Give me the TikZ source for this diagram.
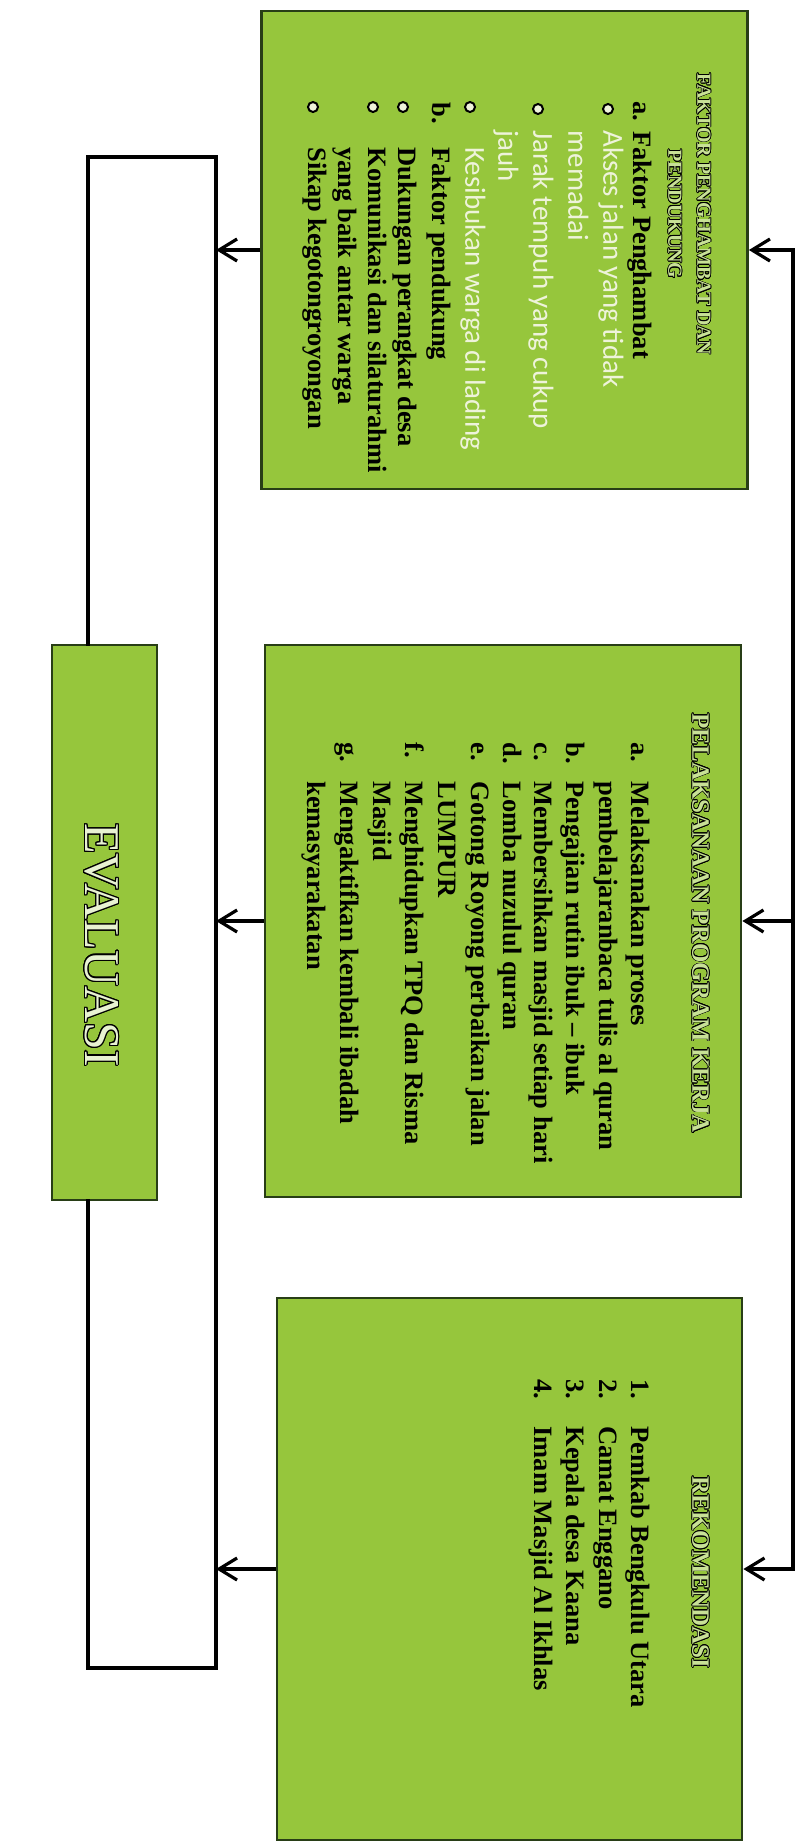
\documentclass[tikz,border=0pt]{standalone}
\usepackage{fontspec}
\setmainfont{Liberation Serif}
\newfontfamily\calfont{Carlito}
\usepackage[copies]{contour}
\usetikzlibrary{arrows.meta}
\definecolor{boxgreen}{RGB}{150,198,60}
\definecolor{boxline}{RGB}{40,62,22}
\definecolor{lighttext}{RGB}{238,243,218}
\definecolor{ttlfill}{RGB}{200,225,150}
\definecolor{evfill}{RGB}{232,242,210}
\newcommand{\outl}[1]{\contourlength{0.35pt}\contour{black}{\textcolor{ttlfill}{#1}}}
\begin{document}
\begin{tikzpicture}[x=0.5pt,y=-0.5pt,
  box/.style={draw=boxline, line width=1.4pt, fill=boxgreen, inner sep=0pt},
  conn/.style={line width=2pt, line cap=rect},
  arr/.style={line width=2pt, -{Straight Barb[length=9pt,width=11pt,line width=1.6pt]}},
  body/.style={rotate=-90, inner sep=0pt, anchor=mid west, font=\bfseries\fontsize{13.25}{15}\selectfont},
  wbody/.style={body, font=\calfont\fontsize{14.5}{17}\selectfont, text=lighttext},
  ttlA/.style={rotate=-90, inner sep=0pt, anchor=mid, font=\bfseries\fontsize{10}{12}\selectfont},
  ttlB/.style={rotate=-90, inner sep=0pt, anchor=mid west, font=\bfseries\fontsize{12.5}{15}\selectfont},
  bul/.style={circle, draw=black, fill=lighttext, line width=1pt, inner sep=0pt, minimum size=5pt},
  evtxt/.style={rotate=-90, inner sep=0pt, font=\fontsize{25}{30}\selectfont}
]
\fill[white] (0,0) rectangle (800,1848);
\useasboundingbox (0,0) rectangle (800,1848);

% boxes
\node[box, minimum width=243pt, minimum height=239pt] (b1) at (504.5,250) {};
\node[box, minimum width=238pt, minimum height=276pt] (b2) at (503,921) {};
\node[box, minimum width=232.5pt, minimum height=271pt] (b3) at (509.5,1569) {};
\node[box, minimum width=52.5pt, minimum height=277.5pt] (ev) at (104.5,922.5) {};
\node[evtxt] (evt) at (101,945) {\contourlength{0.6pt}\contour{black}{\textcolor{evfill}{EVALUASI}}};

% box 1 text
\node[ttlA] (t1a) at (702,214) {\outl{FAKTOR PENGHAMBAT DAN}};
\node[ttlA] (t1b) at (673,214) {\outl{PENDUKUNG}};
\node[body] (p1) at (638,101) {a.};
\node[body] (p2) at (638,131) {Faktor Penghambat};
\node[bul] (q1) at (608,109) {};
\node[wbody] (p3) at (608,130) {Akses jalan yang tidak};
\node[wbody] (p4) at (573,130) {memadai};
\node[bul] (q2) at (538,109) {};
\node[wbody] (p5) at (538,130) {Jarak tempuh yang cukup};
\node[wbody] (p6) at (503,130) {jauh};
\node[bul] (q3) at (470,107) {};
\node[wbody] (p7) at (470,147) {Kesibukan warga di lading};
\node[body] (p8) at (437,102) {b.};
\node[body] (p9) at (437,147) {Faktor pendukung};
\node[bul] (q4) at (403,107) {};
\node[body] (p10) at (403,147) {Dukungan perangkat desa};
\node[bul] (q5) at (373,107) {};
\node[body] (p11) at (373,147) {Komunikasi dan silaturahmi};
\node[body] (p12) at (343,147) {yang baik antar warga};
\node[bul] (q6) at (313,107) {};
\node[body] (p13) at (313,147) {Sikap kegotongroyongan};

% box 2 text
\node[ttlB] (t2) at (697,713) {\outl{PELAKSANAAN PROGRAM KERJA}};
\node[body] (r1) at (636,742) {a.};
\node[body] (s1) at (636,781) {Melaksanakan proses};
\node[body] (s2) at (604,781) {pembelajaranbaca tulis al quran};
\node[body] (r3) at (571,742) {b.};
\node[body] (s3) at (571,781) {Pengajian rutin ibuk -- ibuk};
\node[body] (r4) at (539,742) {c.};
\node[body] (s4) at (539,781) {Membersihkan masjid setiap hari};
\node[body] (r5) at (508,742) {d.};
\node[body] (s5) at (508,781) {Lomba nuzulul quran};
\node[body] (r6) at (476,742) {e.};
\node[body] (s6) at (476,781) {Gotong Royong perbaikan jalan};
\node[body] (s7) at (443,781) {LUMPUR};
\node[body] (r8) at (410,742) {f.};
\node[body] (s8) at (410,781) {Menghidupkan TPQ dan Risma};
\node[body] (s9) at (378,781) {Masjid};
\node[body] (r10) at (345,742) {g.};
\node[body] (s10) at (345,781) {Mengaktifkan kembali ibadah};
\node[body] (s11) at (312,781) {kemasyarakatan};

% box 3 text
\node[ttlB] (t3) at (697,1476) {\outl{REKOMENDASI}};
\node[body] (u1) at (636,1379) {1.};
\node[body] (v1) at (636,1426) {Pemkab Bengkulu Utara};
\node[body] (u2) at (604,1379) {2.};
\node[body] (v2) at (604,1426) {Camat Enggano};
\node[body] (u3) at (571,1379) {3.};
\node[body] (v3) at (571,1426) {Kepala desa Kaana};
\node[body] (u4) at (539,1379) {4.};
\node[body] (v4) at (539,1426) {Imam Masjid Al Ikhlas};

% right feed line
\coordinate (rx) at (793,0);
\draw[conn] (b1.east -| rx) -- (b3.east -| rx);
\draw[arr] (b1.east -| rx) -- (b1.east);
\draw[arr] (b2.east -| rx) -- (b2.east);
\draw[arr] (b3.east -| rx) -- (b3.east);

% left bracket to evaluasi
\coordinate (tl) at (88,157);
\coordinate (tr) at (216,157);
\coordinate (bl) at (88,1668);
\coordinate (br) at (216,1668);
\draw[conn] (ev.north -| tl) -- (tl) -- (tr) -- (br) -- (bl) -- (ev.south -| bl);
\draw[arr] (b1.west) -- (b1.west -| tr);
\draw[arr] (b2.west) -- (b2.west -| tr);
\draw[arr] (b3.west) -- (b3.west -| tr);
\end{tikzpicture}
\end{document}
